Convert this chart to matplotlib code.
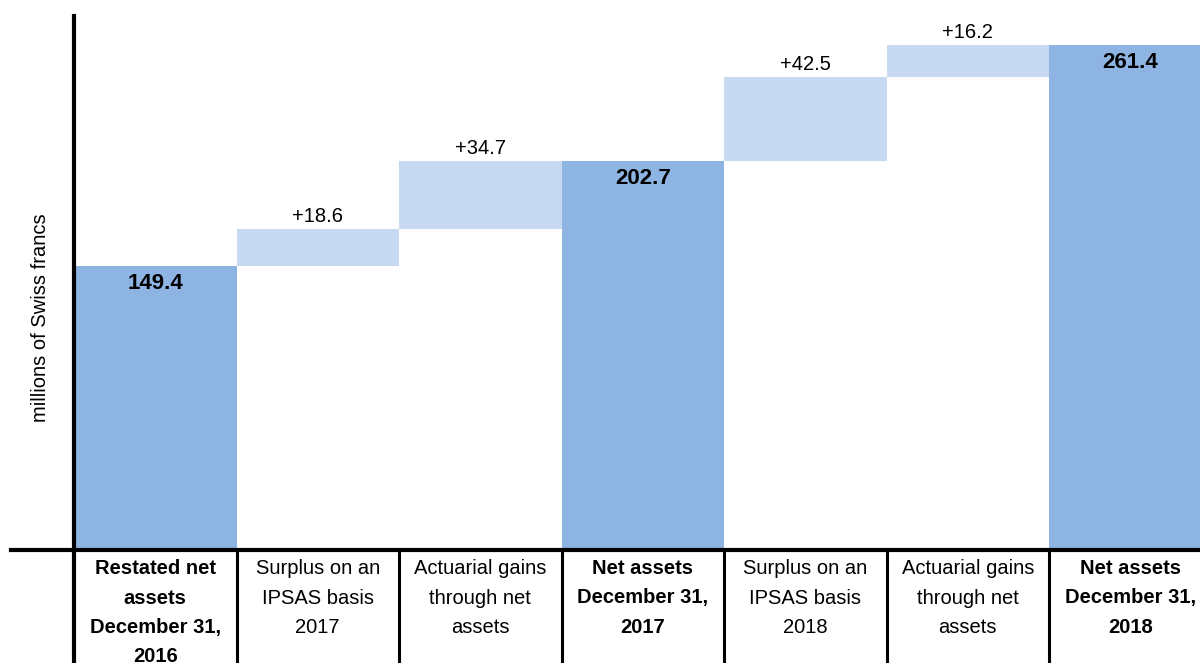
import matplotlib
matplotlib.use("Agg")
import matplotlib.pyplot as plt
import matplotlib.transforms as mtransforms
from matplotlib.lines import Line2D

plt.rcParams['font.family'] = ['Liberation Sans', 'DejaVu Sans']

# --- data ---
categories = [
    "Restated net\nassets\nDecember 31,\n2016",
    "Surplus on an\nIPSAS basis\n2017",
    "Actuarial gains\nthrough net\nassets",
    "Net assets\nDecember 31,\n2017",
    "Surplus on an\nIPSAS basis\n2018",
    "Actuarial gains\nthrough net\nassets",
    "Net assets\nDecember 31,\n2018",
]
values = [149.4, 18.6, 34.7, 202.7, 42.5, 16.2, 261.4]
is_total = [True, False, False, True, False, False, True]

total_color = '#8EB4E3'
step_color = '#C6D9F1'

W, H = 1200, 663
fig = plt.figure(figsize=(W / 100, H / 100), dpi=100)

base_px = 550
top_px = 16
left_px = 74
ax = fig.add_axes([left_px / W, (H - base_px) / H, 1 - left_px / W, (base_px - top_px) / H])

running = 0.0
for i, (v, tot) in enumerate(zip(values, is_total)):
    if tot:
        ax.bar(i, v, width=1.0, bottom=0, color=total_color, zorder=2)
        ax.annotate(f"{v:.1f}", (i, v), xytext=(0, -5), textcoords='offset points',
                    ha='center', va='top', fontsize=16, fontweight='bold')
        running = v
    else:
        ax.bar(i, v, width=1.0, bottom=running, color=step_color, zorder=2)
        ax.annotate(f"+{v:.1f}", (i, running + v), xytext=(0, 2), textcoords='offset points',
                    ha='center', va='bottom', fontsize=14.5)
        running += v

ax.set_xlim(-0.5, -0.5 + (W - left_px) / 162.5)
ax.set_ylim(5.5, 276)
ax.set_xticks([])
ax.set_yticks([])
for s in ['top', 'right', 'bottom']:
    ax.spines[s].set_visible(False)
ax.spines['left'].set_linewidth(3)

# y label
fig.text(41 / W, (H - 318) / H, "millions of Swiss francs", rotation=90,
         ha='center', va='center', fontsize=14.5)

# baseline and category table below
yb = (H - base_px) / H
fig.add_artist(Line2D([11 / W, 1.0], [yb, yb], color='black', lw=3, transform=fig.transFigure))
trans = mtransforms.blended_transform_factory(ax.transData, fig.transFigure)
for k in range(len(categories)):
    x = k - 0.5
    fig.add_artist(Line2D([x, x], [0, yb], color='black', lw=2.2 if k else 3, transform=trans))
for i, (lab, tot) in enumerate(zip(categories, is_total)):
    fig.text(i, (H - 559) / H, lab, transform=trans, ha='center', va='top',
             fontsize=14.5, fontweight='bold' if tot else 'normal', linespacing=1.7,
             clip_on=False)

fig.savefig("out.png", dpi=100)
